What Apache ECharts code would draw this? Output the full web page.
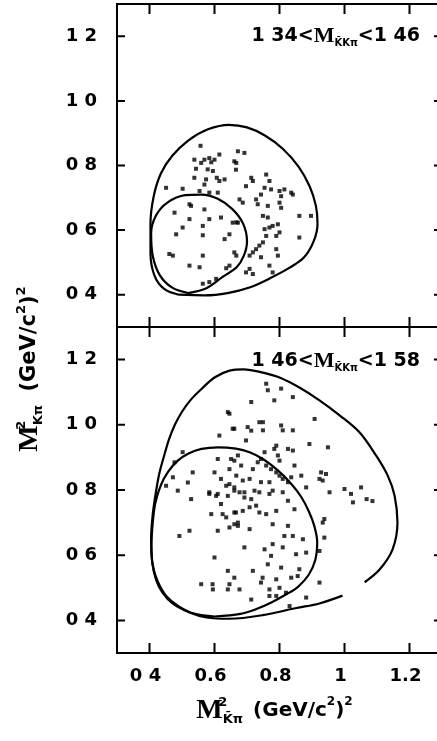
<!DOCTYPE html>
<html>
<head>
<meta charset="utf-8">
<script src="https://cdn.jsdelivr.net/npm/echarts@6.0.0/dist/echarts.min.js"></script>
<style>
  html, body { margin: 0; padding: 0; background: #fff; }
  #chart { width: 437px; height: 741px; }
</style>
</head>
<body>
<div id="chart"></div>
<script>
// tick positions + labels as printed (the scan lost most decimal points)
const xTicks = [0.4, 0.6, 0.8, 1.0, 1.2]
const xTickLabels = ['0 4', '0.6', '0.8', '1', '1.2']
const yTicks = [0.4, 0.6, 0.8, 1.0, 1.2]
const yTickLabels = ['0 4', '0 6', '0 8', '1 0', '1 2']

// upper panel: 1.34 < M < 1.46
const topOuter = [
  [0.49, 0.400], [0.445, 0.418], [0.415, 0.46], [0.403, 0.53], [0.403, 0.62], [0.413, 0.705],
  [0.435, 0.775], [0.47, 0.83], [0.52, 0.878], [0.58, 0.912], [0.645, 0.926], [0.70, 0.918],
  [0.755, 0.893], [0.81, 0.852], [0.858, 0.797], [0.893, 0.735], [0.912, 0.675], [0.917, 0.62],
  [0.905, 0.565], [0.875, 0.515], [0.83, 0.483], [0.775, 0.453], [0.71, 0.423], [0.64, 0.405],
  [0.57, 0.398], [0.49, 0.400]
]
const topInner = [
  [0.52, 0.405], [0.47, 0.422], [0.432, 0.46], [0.41, 0.52], [0.405, 0.59], [0.42, 0.645],
  [0.455, 0.685], [0.51, 0.708], [0.56, 0.71], [0.61, 0.697], [0.655, 0.665], [0.688, 0.62],
  [0.70, 0.565], [0.69, 0.52], [0.668, 0.485], [0.625, 0.455], [0.575, 0.42], [0.52, 0.405]
]
const topDots = [
  [0.557, 0.861], [0.538, 0.818], [0.543, 0.790], [0.559, 0.808], [0.569, 0.818], [0.584, 0.823],
  [0.590, 0.810], [0.600, 0.818], [0.579, 0.788], [0.595, 0.783], [0.615, 0.834], [0.607, 0.762],
  [0.615, 0.752], [0.538, 0.762], [0.574, 0.757], [0.631, 0.757], [0.569, 0.741], [0.502, 0.728],
  [0.451, 0.731], [0.554, 0.721], [0.584, 0.716], [0.610, 0.716], [0.523, 0.680], [0.528, 0.675],
  [0.569, 0.664], [0.477, 0.654], [0.523, 0.634], [0.620, 0.639], [0.584, 0.634], [0.502, 0.608],
  [0.564, 0.613], [0.482, 0.587], [0.564, 0.584], [0.646, 0.587], [0.656, 0.623], [0.461, 0.526],
  [0.472, 0.521], [0.564, 0.521], [0.523, 0.490], [0.554, 0.485], [0.646, 0.490], [0.636, 0.482],
  [0.605, 0.449], [0.584, 0.439], [0.564, 0.434], [0.631, 0.572], [0.666, 0.787], [0.672, 0.623],
  [0.672, 0.844], [0.692, 0.839], [0.661, 0.813], [0.667, 0.808], [0.713, 0.762], [0.718, 0.752],
  [0.697, 0.736], [0.759, 0.772], [0.769, 0.752], [0.754, 0.731], [0.743, 0.710], [0.774, 0.726],
  [0.800, 0.721], [0.805, 0.705], [0.815, 0.726], [0.800, 0.685], [0.805, 0.669], [0.836, 0.716],
  [0.841, 0.710], [0.677, 0.695], [0.687, 0.685], [0.728, 0.695], [0.733, 0.680], [0.764, 0.675],
  [0.749, 0.644], [0.764, 0.639], [0.769, 0.608], [0.779, 0.613], [0.795, 0.618], [0.800, 0.593],
  [0.790, 0.582], [0.754, 0.603], [0.759, 0.582], [0.861, 0.644], [0.897, 0.644], [0.861, 0.577],
  [0.749, 0.562], [0.738, 0.552], [0.728, 0.541], [0.718, 0.531], [0.708, 0.521], [0.743, 0.516],
  [0.790, 0.541], [0.795, 0.521], [0.769, 0.490], [0.779, 0.469], [0.708, 0.480], [0.697, 0.469],
  [0.718, 0.464], [0.667, 0.624], [0.661, 0.531], [0.667, 0.521]
]

// lower panel: 1.46 < M < 1.58
const bottomOuter = [
  [1.062, 0.517], [1.108, 0.556], [1.148, 0.618], [1.163, 0.70], [1.154, 0.783], [1.133, 0.844],
  [1.097, 0.906], [1.046, 0.977], [0.985, 1.029], [0.923, 1.075], [0.86, 1.115], [0.80, 1.145],
  [0.749, 1.16], [0.69, 1.17], [0.646, 1.166], [0.60, 1.145], [0.56, 1.11], [0.528, 1.078],
  [0.50, 1.04], [0.478, 1.0], [0.46, 0.955], [0.445, 0.905], [0.43, 0.85], [0.42, 0.795],
  [0.41, 0.725], [0.405, 0.65], [0.408, 0.58], [0.42, 0.525], [0.44, 0.485], [0.471, 0.452],
  [0.523, 0.424], [0.575, 0.409], [0.646, 0.405], [0.748, 0.416], [0.852, 0.438], [0.923, 0.452],
  [0.994, 0.476]
]
const bottomInner = [
  [0.60, 0.412], [0.54, 0.42], [0.49, 0.443], [0.452, 0.474], [0.425, 0.52], [0.41, 0.57],
  [0.406, 0.63], [0.41, 0.70], [0.418, 0.76], [0.435, 0.815], [0.458, 0.857], [0.487, 0.89],
  [0.52, 0.912], [0.56, 0.926], [0.61, 0.931], [0.666, 0.927], [0.708, 0.916], [0.749, 0.895],
  [0.795, 0.86], [0.835, 0.82], [0.866, 0.78], [0.89, 0.735], [0.907, 0.69], [0.916, 0.64],
  [0.91, 0.585], [0.89, 0.54], [0.857, 0.503], [0.821, 0.48], [0.775, 0.455], [0.729, 0.435],
  [0.68, 0.42], [0.60, 0.412]
]
const bottomDots = [
  [0.641, 1.039], [0.656, 0.988], [0.615, 0.967], [0.502, 0.916], [0.477, 0.885], [0.533, 0.854],
  [0.610, 0.895], [0.651, 0.895], [0.600, 0.854], [0.472, 0.839], [0.646, 0.864], [0.620, 0.834],
  [0.518, 0.823], [0.636, 0.813], [0.646, 0.818], [0.661, 0.808], [0.451, 0.813], [0.487, 0.798],
  [0.584, 0.793], [0.610, 0.788],
  [0.759, 1.126], [0.764, 1.106], [0.805, 1.111], [0.713, 1.070], [0.784, 1.075], [0.841, 1.085],
  [0.908, 1.018], [0.749, 1.008], [0.738, 1.008], [0.702, 0.993], [0.713, 0.982], [0.661, 0.988],
  [0.805, 0.998], [0.810, 0.983], [0.841, 0.983], [0.749, 0.983], [0.697, 0.952], [0.892, 0.941],
  [0.790, 0.936], [0.784, 0.926], [0.826, 0.926], [0.841, 0.921], [0.795, 0.906], [0.800, 0.890],
  [0.846, 0.875], [0.754, 0.916], [0.743, 0.895], [0.759, 0.875], [0.774, 0.864], [0.790, 0.854],
  [0.800, 0.844], [0.810, 0.834], [0.826, 0.824], [0.836, 0.839], [0.867, 0.844], [0.882, 0.808],
  [0.923, 0.834], [0.943, 0.849], [0.672, 0.906], [0.661, 0.890], [0.682, 0.875], [0.718, 0.864],
  [0.733, 0.885], [0.667, 0.844], [0.687, 0.829], [0.708, 0.834], [0.743, 0.824], [0.769, 0.824],
  [0.779, 0.798], [0.810, 0.793], [0.723, 0.798], [0.692, 0.793],
  [0.949, 0.931], [0.928, 0.854], [0.933, 0.829], [1.000, 0.803], [1.051, 0.808], [1.020, 0.788],
  [0.954, 0.793], [1.068, 0.772], [1.086, 0.766], [0.646, 1.034], [1.026, 0.762],
  [0.933, 0.700], [0.938, 0.654], [0.923, 0.613],
  [0.528, 0.772], [0.584, 0.788], [0.605, 0.782], [0.620, 0.757], [0.641, 0.782], [0.590, 0.726],
  [0.625, 0.726], [0.636, 0.716], [0.666, 0.731], [0.672, 0.690], [0.646, 0.685], [0.610, 0.675],
  [0.523, 0.675], [0.492, 0.659], [0.600, 0.593], [0.641, 0.552], [0.559, 0.511], [0.595, 0.495],
  [0.641, 0.495], [0.661, 0.531],
  [0.677, 0.793], [0.692, 0.777], [0.713, 0.772], [0.738, 0.793], [0.769, 0.788], [0.661, 0.731],
  [0.687, 0.736], [0.708, 0.747], [0.728, 0.752], [0.738, 0.731], [0.759, 0.726], [0.790, 0.736],
  [0.826, 0.767], [0.846, 0.741], [0.661, 0.695], [0.672, 0.700], [0.708, 0.680], [0.779, 0.695],
  [0.826, 0.690], [0.815, 0.659], [0.841, 0.659], [0.872, 0.649], [0.779, 0.634], [0.810, 0.624],
  [0.754, 0.618], [0.692, 0.624], [0.774, 0.598], [0.851, 0.603], [0.882, 0.608], [0.764, 0.572],
  [0.805, 0.562], [0.861, 0.557], [0.718, 0.552], [0.748, 0.531], [0.743, 0.516], [0.790, 0.526],
  [0.856, 0.536], [0.836, 0.531], [0.677, 0.495], [0.769, 0.495], [0.800, 0.500], [0.769, 0.475],
  [0.790, 0.475], [0.820, 0.485], [0.713, 0.464], [0.882, 0.470], [0.923, 0.516], [0.938, 0.711],
  [0.661, 0.798], [0.831, 0.444], [0.594, 0.511], [0.646, 0.511]
]

const ink = '#000'
const sans = 'DejaVu Sans'
const serif = 'Liberation Serif'
const lo = 0.3
const hi = 1.3
const panelPx = 325
// tick lengths (px) turned into axis units
const xTickLen = 10 / panelPx * (hi - lo)
const yTickLen = 8 / panelPx * (hi - lo)

const chart = echarts.init(document.getElementById('chart'))

const labelFor = (ticks, labels, v) => {
  let best = 0
  ticks.forEach((t, i) => {
    if (Math.abs(t - v) < Math.abs(ticks[best] - v)) best = i
  })
  return labels[best]
}

const labelFont = {
  color: ink,
  fontFamily: sans,
  fontWeight: 'bold',
  fontSize: 18
}

// rich styles for M^2_{..} (GeV/c^2)^2
const titleRich = {
  m: { fontFamily: serif, fontWeight: 'bold', fontSize: 28, lineHeight: 30, color: ink },
  sup: { fontFamily: sans, fontWeight: 'bold', fontSize: 13, lineHeight: 20, verticalAlign: 'top', width: 0, color: ink },
  sub: { fontFamily: sans, fontWeight: 'bold', fontSize: 13, lineHeight: 16, verticalAlign: 'bottom', color: ink },
  t: { fontFamily: sans, fontWeight: 'bold', fontSize: 20, lineHeight: 30, color: ink },
  tsup: { fontFamily: sans, fontWeight: 'bold', fontSize: 12, lineHeight: 20, verticalAlign: 'top', color: ink }
}

const makeX = (gridIndex, position, withLabels) => ({
  type: 'value',
  gridIndex,
  position,
  min: lo,
  max: hi,
  axisLine: { show: true, onZero: false, lineStyle: { color: ink, width: 2 } },
  axisTick: { show: false },
  axisLabel: Object.assign({
    show: withLabels,
    customValues: xTicks,
    margin: 14,
    padding: [0, 8, 0, 0],
    formatter: (v) => labelFor(xTicks, xTickLabels, v)
  }, labelFont),
  splitLine: { show: false }
})

const makeY = (gridIndex, position, withLabels) => ({
  type: 'value',
  gridIndex,
  position,
  min: lo,
  max: hi,
  axisLine: { show: true, onZero: false, lineStyle: { color: ink, width: 2 } },
  axisTick: { show: false },
  axisLabel: Object.assign({
    show: withLabels,
    customValues: yTicks,
    margin: 20,
    formatter: (v) => labelFor(yTicks, yTickLabels, v)
  }, labelFont),
  splitLine: { show: false }
})

const xBottom = makeX(1, 'bottom', true)
xBottom.name = '{m|M}{sup|2}{sub|K\u0304\u03c0}   {t|(GeV/c}{tsup|2}{t|)}{tsup|2}'
xBottom.nameLocation = 'middle'
xBottom.nameGap = 43
xBottom.nameTextStyle = { rich: titleRich, padding: [0, 10, 0, 0] }

// inward tick marks: one path walking round the frame (bottom, right, top, left),
// so every joining segment lies on the frame itself
const tickPath = () => {
  const pts = [[lo, lo]]
  xTicks.forEach((v) => pts.push([v, lo], [v, lo + xTickLen], [v, lo]))
  pts.push([hi, lo])
  yTicks.forEach((v) => pts.push([hi, v], [hi - yTickLen, v], [hi, v]))
  pts.push([hi, hi])
  xTicks.slice().reverse().forEach((v) => pts.push([v, hi], [v, hi - xTickLen], [v, hi]))
  pts.push([lo, hi])
  yTicks.slice().reverse().forEach((v) => pts.push([lo, v], [lo + yTickLen, v], [lo, v]))
  pts.push([lo, lo])
  return pts
}
const ticks = (xi, yi) => ({
  type: 'line',
  data: tickPath(),
  xAxisIndex: xi,
  yAxisIndex: yi,
  symbol: 'none',
  smooth: false,
  clip: false,
  silent: true,
  lineStyle: { color: ink, width: 2 },
  z: 5
})

const curve = (data, xi, yi) => ({
  type: 'line',
  data,
  xAxisIndex: xi,
  yAxisIndex: yi,
  smooth: 0.33,
  symbol: 'none',
  lineStyle: { color: ink, width: 2.2 },
  z: 3
})
const dots = (data, xi, yi) => ({
  type: 'scatter',
  data,
  xAxisIndex: xi,
  yAxisIndex: yi,
  symbol: 'rect',
  symbolSize: 4,
  itemStyle: { color: ink },
  z: 2
})

const annRich = {
  n: { fontFamily: sans, fontWeight: 'bold', fontSize: 19, lineHeight: 24, fill: ink },
  m: { fontFamily: serif, fontWeight: 'bold', fontSize: 22, lineHeight: 24, fill: ink },
  s: { fontFamily: sans, fontWeight: 'bold', fontSize: 10, lineHeight: 10, verticalAlign: 'bottom', fill: ink }
}
const yTitleRich = {
  m: { fontFamily: serif, fontWeight: 'bold', fontSize: 28, lineHeight: 30, fill: ink },
  sup: { fontFamily: sans, fontWeight: 'bold', fontSize: 13, lineHeight: 20, verticalAlign: 'top', width: 0, fill: ink },
  sub: { fontFamily: sans, fontWeight: 'bold', fontSize: 13, lineHeight: 16, verticalAlign: 'bottom', fill: ink },
  t: { fontFamily: sans, fontWeight: 'bold', fontSize: 21, lineHeight: 30, fill: ink },
  tsup: { fontFamily: sans, fontWeight: 'bold', fontSize: 13, lineHeight: 20, verticalAlign: 'top', fill: ink }
}

chart.setOption({
  animation: false,
  backgroundColor: '#fff',
  grid: [
    { left: 117, top: 4, width: panelPx, height: 323, outerBoundsMode: 'none' },
    { left: 117, top: 327, width: panelPx, height: 326, outerBoundsMode: 'none' }
  ],
  xAxis: [
    makeX(0, 'bottom', false),
    makeX(0, 'top', false),
    xBottom,
    makeX(1, 'top', false)
  ],
  yAxis: [
    makeY(0, 'left', true),
    makeY(0, 'right', false),
    makeY(1, 'left', true),
    makeY(1, 'right', false)
  ],
  graphic: [
    {
      type: 'text',
      x: 30,
      y: 369,
      rotation: Math.PI / 2,
      style: {
        text: '{m|M}{sup|2}{sub|K\u03c0}    {t|(GeV/c}{tsup|2}{t|)}{tsup|2}',
        rich: yTitleRich,
        align: 'center',
        verticalAlign: 'middle',
        fill: ink
      }
    },
    {
      type: 'text',
      x: 420,
      y: 36,
      style: {
        text: '{n|1 34<}{m|M}{s|K\u0304K\u03c0}{n|<1 46}',
        rich: annRich,
        align: 'right',
        verticalAlign: 'middle',
        fill: ink
      }
    },
    {
      type: 'text',
      x: 420,
      y: 361,
      style: {
        text: '{n|1 46<}{m|M}{s|K\u0304K\u03c0}{n|<1 58}',
        rich: annRich,
        align: 'right',
        verticalAlign: 'middle',
        fill: ink
      }
    }
  ],
  series: [
    dots(topDots, 0, 0),
    curve(topOuter, 0, 0),
    curve(topInner, 0, 0),
    ticks(0, 0),
    dots(bottomDots, 2, 2),
    curve(bottomOuter, 2, 2),
    curve(bottomInner, 2, 2),
    ticks(2, 2)
  ]
})
</script>
</body>
</html>
